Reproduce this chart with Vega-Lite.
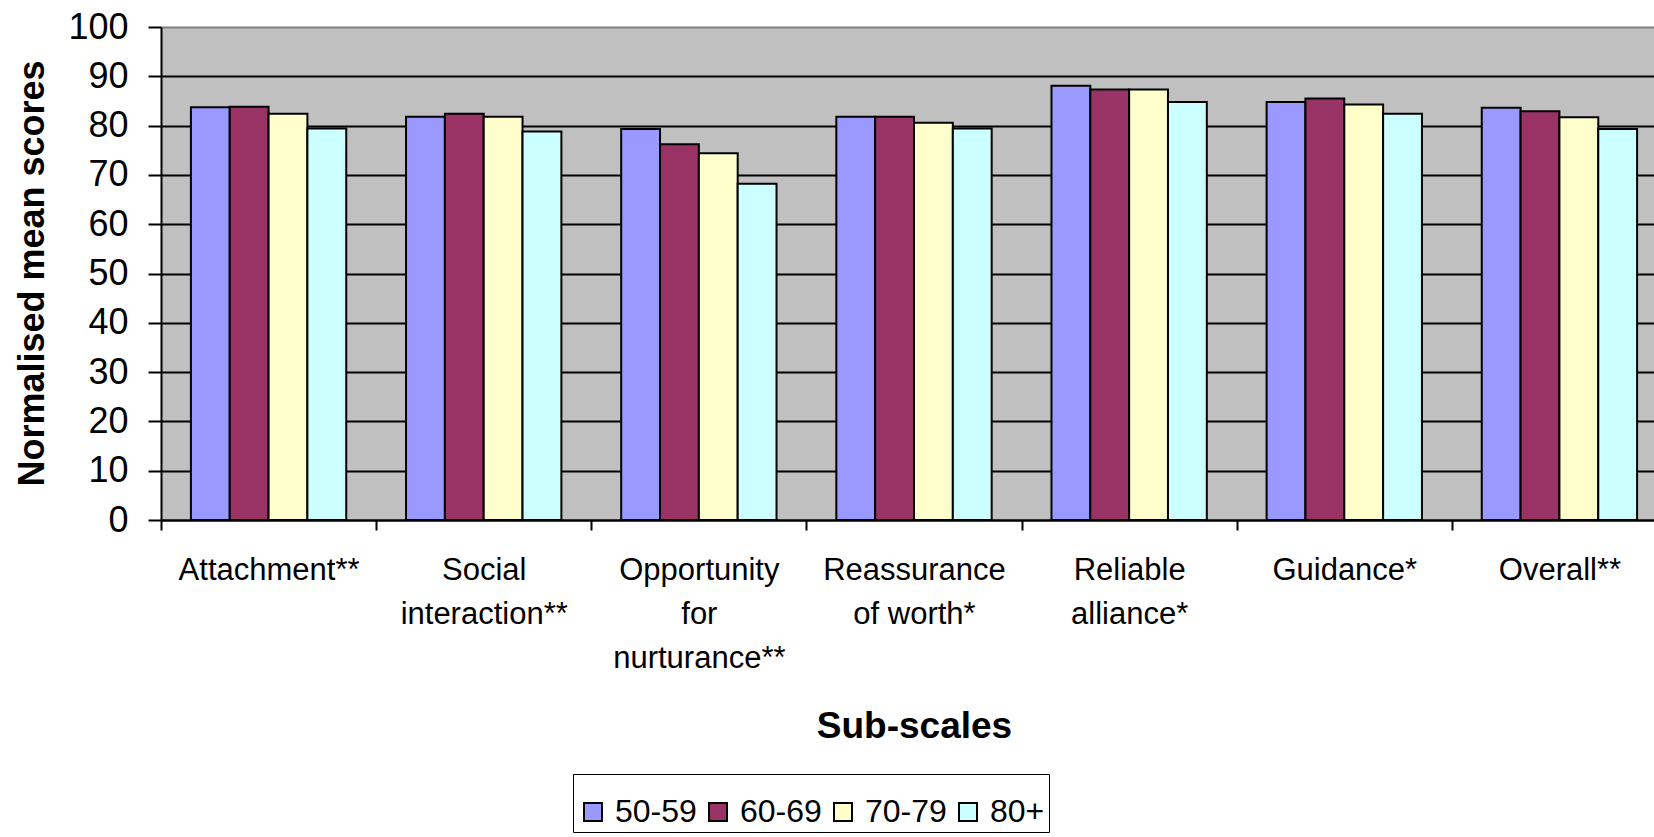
{
  "$schema": "https://vega.github.io/schema/vega-lite/v6.json",
  "autosize": {"type": "none"},
  "padding": {"left": 161, "top": 27, "right": 0, "bottom": 317},
  "width": 1493,
  "height": 493,
  "background": "white",
  "config": {
    "font": "Liberation Sans",
    "view": {"fill": "#C0C0C0", "stroke": null},
    "axis": {"labelColor": "black", "titleColor": "black", "domainColor": "black", "tickColor": "black"}
  },
  "data": {
    "values": [
      {"subscale": "Attachment**", "age": "50-59", "score": 83.7},
      {"subscale": "Attachment**", "age": "60-69", "score": 83.8},
      {"subscale": "Attachment**", "age": "70-79", "score": 82.4},
      {"subscale": "Attachment**", "age": "80+", "score": 79.4},
      {"subscale": "Social interaction**", "age": "50-59", "score": 81.8},
      {"subscale": "Social interaction**", "age": "60-69", "score": 82.4},
      {"subscale": "Social interaction**", "age": "70-79", "score": 81.8},
      {"subscale": "Social interaction**", "age": "80+", "score": 78.8},
      {"subscale": "Opportunity for nurturance**", "age": "50-59", "score": 79.3},
      {"subscale": "Opportunity for nurturance**", "age": "60-69", "score": 76.2},
      {"subscale": "Opportunity for nurturance**", "age": "70-79", "score": 74.4},
      {"subscale": "Opportunity for nurturance**", "age": "80+", "score": 68.2},
      {"subscale": "Reassurance of worth*", "age": "50-59", "score": 81.8},
      {"subscale": "Reassurance of worth*", "age": "60-69", "score": 81.8},
      {"subscale": "Reassurance of worth*", "age": "70-79", "score": 80.6},
      {"subscale": "Reassurance of worth*", "age": "80+", "score": 79.4},
      {"subscale": "Reliable alliance*", "age": "50-59", "score": 88.1},
      {"subscale": "Reliable alliance*", "age": "60-69", "score": 87.3},
      {"subscale": "Reliable alliance*", "age": "70-79", "score": 87.3},
      {"subscale": "Reliable alliance*", "age": "80+", "score": 84.8},
      {"subscale": "Guidance*", "age": "50-59", "score": 84.8},
      {"subscale": "Guidance*", "age": "60-69", "score": 85.5},
      {"subscale": "Guidance*", "age": "70-79", "score": 84.3},
      {"subscale": "Guidance*", "age": "80+", "score": 82.4},
      {"subscale": "Overall**", "age": "50-59", "score": 83.6},
      {"subscale": "Overall**", "age": "60-69", "score": 82.9},
      {"subscale": "Overall**", "age": "70-79", "score": 81.7},
      {"subscale": "Overall**", "age": "80+", "score": 79.3}
    ]
  },
  "mark": {"type": "bar", "stroke": "black", "strokeWidth": 2},
  "encoding": {
    "x": {
      "field": "subscale",
      "type": "nominal",
      "sort": null,
      "title": "Sub-scales",
      "scale": {"range": [0, 1506], "paddingInner": 0, "paddingOuter": 0},
      "axis": {
        "labelAngle": 0,
        "labelFontSize": 31,
        "labelLimit": 0,
        "labelLineHeight": 44,
        "labelBaseline": "alphabetic",
        "labelPadding": 49,
        "labelExpr": "!isValid(datum.value) ? '' : datum.value == 'Reassurance of worth*' ? ['Reassurance', 'of worth*'] : split(datum.value, ' ')",
        "tickBand": "extent",
        "tickSize": 10,
        "tickWidth": 2,
        "domainWidth": 2,
        "grid": false,
        "titleFontSize": 37,
        "titleFontWeight": "bold",
        "titleBaseline": "alphabetic",
        "titleY": 217
      }
    },
    "xOffset": {"field": "age", "type": "nominal", "sort": ["50-59", "60-69", "70-79", "80+"], "scale": {"paddingInner": 0, "paddingOuter": 0.77}},
    "y": {
      "field": "score",
      "type": "quantitative",
      "title": "Normalised mean scores",
      "scale": {"domain": [0, 100], "nice": false},
      "axis": {
        "values": [0, 10, 20, 30, 40, 50, 60, 70, 80, 90, 100],
        "labelFontSize": 36,
        "labelPadding": 20,
        "tickSize": 13,
        "tickWidth": 2,
        "domainWidth": 2,
        "grid": true,
        "gridColor": {"condition": {"test": "datum.value == 100", "value": "#808080"}, "value": "black"},
        "gridWidth": 2,
        "gridOpacity": 1,
        "titleFontSize": 36,
        "titleFontWeight": "bold",
        "titleAngle": -90,
        "titleBaseline": "middle",
        "titleAlign": "center",
        "titleX": -129,
        "titleY": 246
      }
    },
    "fill": {
      "field": "age",
      "type": "nominal",
      "scale": {"domain": ["50-59", "60-69", "70-79", "80+"], "range": ["#9999FF", "#993366", "#FFFFCC", "#CCFFFF"]},
      "legend": {
        "title": " ",
        "titleFontSize": 1,
        "titlePadding": 17,
        "orient": "none",
        "direction": "horizontal",
        "legendX": 412,
        "legendY": 747,
        "padding": 4,
        "strokeColor": "black",
        "fillColor": "white",
        "symbolType": "square",
        "symbolSize": 324,
        "symbolStrokeColor": "black",
        "symbolStrokeWidth": 2,
        "symbolOpacity": 1,
        "labelFontSize": 32,
        "labelColor": "black",
        "labelOffset": 6,
        "columnPadding": 5,
        "labelLimit": 0
      }
    }
  }
}
